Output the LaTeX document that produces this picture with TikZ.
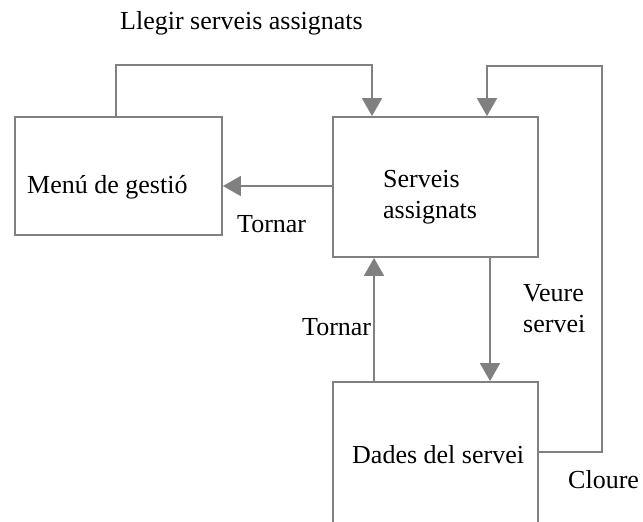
\documentclass[tikz,border=0pt]{standalone}
\usepackage{fontspec}
\setmainfont{Liberation Serif}
\usetikzlibrary{arrows.meta, positioning}

\definecolor{linegray}{RGB}{128,128,128}

\begin{document}
\begin{tikzpicture}[x=1pt, y=-1pt, font=\fontsize{26}{31}\selectfont,
    box/.style={draw=linegray, line width=1.8pt, rectangle, inner sep=0pt},
    arr/.style={draw=linegray, line width=1.8pt, -{Triangle[length=18pt, width=20pt]}},
    txt/.style={anchor=base west, inner sep=0pt}]
        \clip (0,0) rectangle (643,522);

        % Nodes
        \node (menu) [box, minimum width=207pt, minimum height=118pt] at (118.5,176) {};
        \node (serveis) [box, minimum width=205pt, minimum height=140pt] at (435.5,187) {};
        \node (dades) [box, minimum width=205pt, minimum height=160pt] at (435.5,462) {};
        \coordinate (cloure) at (602,66);

        % Arrows
        \draw[arr] ([xshift=-2.5pt]menu.north) |- ([xshift=-63.5pt, yshift=51pt]serveis.north) -- ([xshift=-63.5pt]serveis.north);
        \draw[arr] ([yshift=1pt]serveis.west) -- ([yshift=1pt]serveis.west -| menu.east);
        \draw[arr] ([xshift=54.5pt]serveis.south) -- ([xshift=54.5pt]dades.north);
        \draw[arr] ([xshift=-61.5pt]dades.north) -- ([xshift=-61.5pt]serveis.south);
        \draw[arr] ([yshift=10pt]dades.east) -| (cloure) -| ([xshift=51.5pt]serveis.north);

        % Labels
        \node (llegir) [txt] at (120,30) {Llegir serveis assignats};
        \node (menutxt) [txt] at (27,193) {Menú de gestió};
        \node (tornar1) [txt] at (237,232) {Tornar};
        \node (servtxt) [txt, align=left] at (383,218) {Serveis\\assignats};
        \node (veure) [txt, align=left] at (523,332) {Veure\\servei};
        \node (tornar2) [txt] at (302,335) {Tornar};
        \node (dadestxt) [txt] at (352,463) {Dades del servei};
        \node (cloure txt) [txt] at (568,488) {Cloure};
\end{tikzpicture}
\end{document}
